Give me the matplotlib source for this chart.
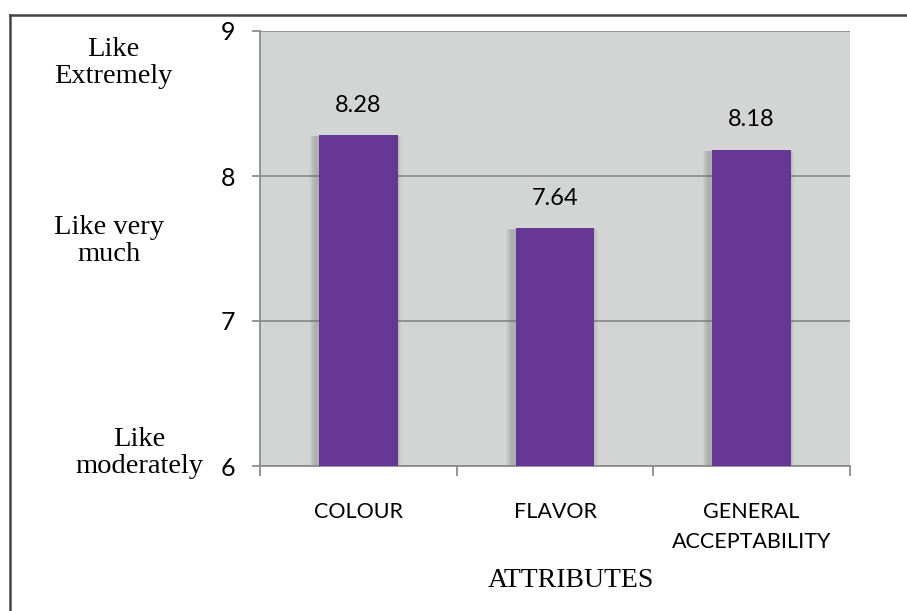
import matplotlib
matplotlib.use("Agg")
import matplotlib.pyplot as plt
from matplotlib.lines import Line2D

attributes = ["COLOUR", "FLAVOR", "GENERAL\nACCEPTABILITY"]
scores = [8.28, 7.64, 8.18]
score_ticks = [6, 7, 8, 9]
hedonic_labels = ["Like\nExtremely", "Like very\nmuch", "Like\nmoderately"]

BAR = "#663795"
BG = "#d3d4d4"
GRID = "#8c8c8c"

fig = plt.figure(figsize=(9.07, 6.11), dpi=100)
ax = fig.add_axes([260 / 907, 145 / 611, 590 / 907, 435 / 611])
ax.set_facecolor(BG)

x = list(range(len(attributes)))

# soft drop shadow behind each bar
for grow, alpha in [(0.07, 0.06), (0.055, 0.08), (0.04, 0.10), (0.025, 0.14)]:
    ax.bar([i - 0.015 for i in x], [s - 6 - 0.005 for s in scores], bottom=6,
           width=0.4 + grow, color="#6a6a6a", alpha=alpha, zorder=2, linewidth=0)
ax.bar(x, [s - 6 for s in scores], bottom=6, width=0.4, color=BAR, zorder=3, linewidth=0)

for i, s in zip(x, scores):
    ax.annotate(f"{s:.2f}", (i, s), xytext=(0, 14), textcoords="offset points",
                ha="center", va="bottom", fontsize=17, family="Lato", color="black")

ax.set_xlim(-0.5, len(attributes) - 0.5)
ax.set_ylim(6, 9)
ax.set_yticks(score_ticks)
ax.set_yticklabels([str(t) for t in score_ticks], family="Lato", fontsize=18)
ax.yaxis.grid(True, color=GRID, linewidth=1.3, zorder=1)
ax.set_axisbelow(True)

ax.set_xticks([i + 0.5 for i in [-1] + x], minor=True)
ax.set_xticks(x)
ax.set_xticklabels(attributes, family="Lato", fontsize=15.5, linespacing=1.6, color="black")
ax.tick_params(axis="x", which="major", length=0, pad=26)
ax.tick_params(axis="x", which="minor", length=7, width=1.3, color=GRID)
ax.tick_params(axis="y", length=6, width=1.3, color=GRID, pad=12)

for side in ["top", "right"]:
    ax.spines[side].set_visible(False)
for side in ["left", "bottom"]:
    ax.spines[side].set_color(GRID)
    ax.spines[side].set_linewidth(1.3)

ax.set_xlabel("ATTRIBUTES", family="Liberation Serif", fontsize=20)
ax.xaxis.set_label_coords((571 - 260) / 590, -0.235)

# hedonic scale descriptions beside the score axis
label_pos = [(113, 63), (109, 241), (139, 453)]
for text, (px, py) in zip(hedonic_labels, label_pos):
    fig.text(px / 907, 1 - py / 611, text, ha="center", va="center",
             family="Liberation Serif", fontsize=20.5, linespacing=1.15)

# outer frame lines
fig.add_artist(Line2D([10 / 907, 10 / 907], [0, 1 - 15 / 611], color="#444444", linewidth=1.8))
fig.add_artist(Line2D([10 / 907, 1], [1 - 15 / 611, 1 - 15 / 611], color="#444444", linewidth=1.8))

fig.savefig("out.png", dpi=100, facecolor="white")
